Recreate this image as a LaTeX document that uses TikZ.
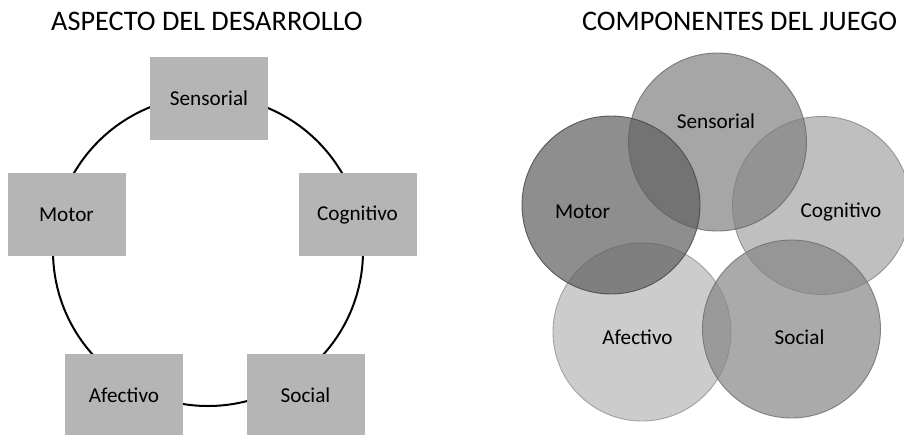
\documentclass[tikz,border=0pt]{standalone}
\usepackage{fontspec}
\setmainfont{Carlito}
\definecolor{boxgray}{RGB}{181,181,181}
\definecolor{cSens}{RGB}{128,128,128}
\definecolor{cMot}{RGB}{94,94,94}
\definecolor{cCog}{RGB}{164,164,164}
\definecolor{cAfe}{RGB}{182,182,182}
\definecolor{cSoc}{RGB}{134,134,134}
\tikzset{
  aspbox/.style={fill=boxgray, minimum width=118pt, minimum height=83pt, inner sep=0pt, font=\fontsize{21.2}{24}\selectfont},
  ttl/.style={font=\fontsize{28.3}{32}\selectfont, anchor=base, inner sep=0pt},
  venn/.style={circle, minimum size=178pt, inner sep=0pt, fill opacity=0.7, draw opacity=0.8, line width=0.9pt},
  vlabel/.style={font=\fontsize{21.2}{24}\selectfont, inner sep=0pt},
}
\begin{document}
\begin{tikzpicture}[x=1pt,y=-1pt]
\useasboundingbox (0,0) rectangle (904,434);
% left panel
\node[ttl] (t1) at (207,30) {ASPECTO DEL DESARROLLO};
\draw[line width=2pt] (208,251) circle[radius=155];
\node[aspbox] (as) at (209,98.5) {Sensorial};
\node[aspbox] (am) at (66.5,214.5) {Motor};
\node[aspbox] (ac) at (357.5,214.5) {Cognitivo};
\node[aspbox] (aa) at (124,395.5) {Afectivo};
\node[aspbox] (aso) at (305.5,395.5) {Social};
% right panel
\node[ttl] (t2) at (739.5,30) {COMPONENTES DEL JUEGO};
\node[venn, fill=cCog, draw=cCog!80!black] (vc) at (821.5,205.5) {};
\node[venn, fill=cAfe, draw=cAfe!80!black] (va) at (642,332) {};
\node[venn, fill=cSoc, draw=cSoc!80!black] (vso) at (791.5,329) {};
\node[venn, fill=cSens, draw=cSens!80!black] (vs) at (717.5,142) {};
\node[venn, fill=cMot, draw=cMot!70!black] (vm) at (611,205) {};
\node[vlabel] (ls) at (716,121) {Sensorial};
\node[vlabel] (lm) at (582.5,212) {Motor};
\node[vlabel] (lc) at (841,212) {Cognitivo};
\node[vlabel] (la) at (637.5,337) {Afectivo};
\node[vlabel] (lso) at (799.5,337) {Social};
\end{tikzpicture}
\end{document}
